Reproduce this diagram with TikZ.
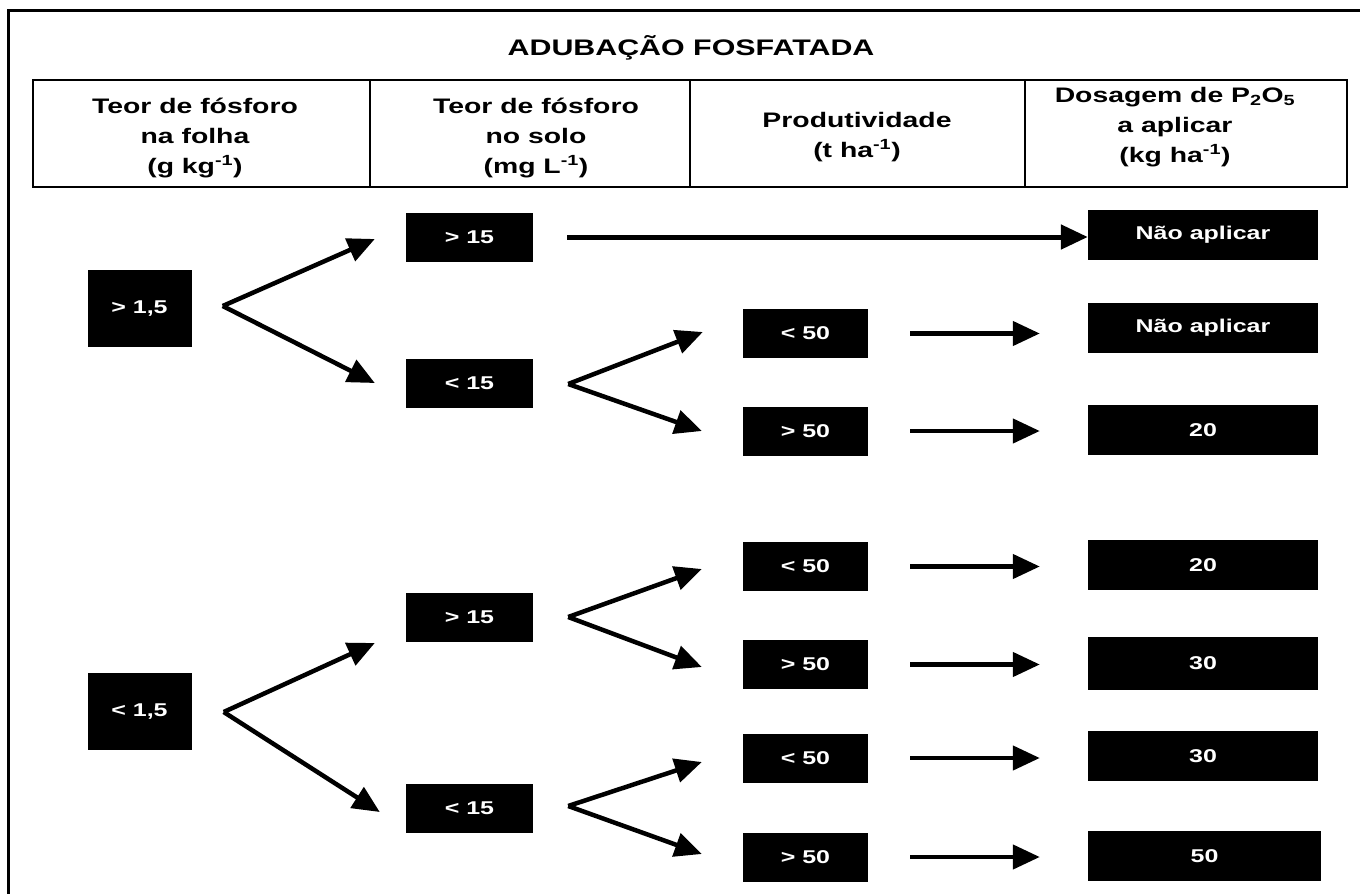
\documentclass[tikz,border=0pt]{standalone}
\usepackage{fontspec}
\setmainfont{Liberation Sans}[FakeStretch=1.35]
\usetikzlibrary{arrows.meta,calc}
\begin{document}
\begin{tikzpicture}[x=1pt,y=-1pt,
  box/.style={fill=black,text=white,font=\fontsize{18.5}{20}\selectfont\bfseries,inner sep=0pt,anchor=center},
  lbox/.style={box,minimum width=104pt,minimum height=77pt},
  sbox/.style={box,minimum width=127pt,minimum height=49pt},
  pbox/.style={box,minimum width=125pt,minimum height=49pt},
  dbox/.style={box,minimum width=230pt,minimum height=50pt},
  hdr/.style={font=\fontsize{21}{30}\selectfont\bfseries,align=center,inner sep=0pt},
  ttl/.style={font=\fontsize{22.5}{26}\selectfont\bfseries,inner sep=0pt},
  arr/.style={line width=4.5pt,-{Triangle[length=27pt,width=24pt]}},
  frame/.style={line width=3pt},
  grid/.style={line width=2pt}
  ]
\useasboundingbox (0,0) rectangle (1360,894);
\fill[white] (0,0) rectangle (1360,894);
% outer frame (right and bottom sides lie outside the picture)
\draw[frame] (8,894) -- (8,10) -- (1360,10);
% title
\node[ttl] (T) at (691,48) {ADUBAÇÃO FOSFATADA};
% header table
\draw[grid] (33,80) rectangle (1347,187);
\draw[grid] (370,80) -- (370,187);
\draw[grid] (690,80) -- (690,187);
\draw[grid] (1025,80) -- (1025,187);
\node[hdr] (H1) at (195,138) {Teor de fósforo\\na folha\\(g kg\textsuperscript{-1})};
\node[hdr] (H2) at (536,138) {Teor de fósforo\\no solo\\(mg L\textsuperscript{-1})};
\node[hdr] (H3) at (857,137) {Produtividade\\(t ha\textsuperscript{-1})};
\node[hdr] (H4) at (1175,127) {Dosagem de P\textsubscript{2}O\textsubscript{5}\\a aplicar\\(kg ha\textsuperscript{-1})};
% leaf content level
\node[lbox] (L1) at (139.5,308.5) {> 1,5};
\node[lbox] (L2) at (139.5,711.5) {< 1,5};
% soil level
\node[sbox] (S1) at (469.5,237) {> 15};
\node[sbox] (S2) at (469.5,383) {< 15};
\node[sbox] (S3) at (469.5,617) {> 15};
\node[sbox] (S4) at (469.5,808) {< 15};
% productivity level
\node[pbox] (P1) at (805.5,333.5) {< 50};
\node[pbox] (P2) at (805.5,431) {> 50};
\node[pbox] (P3) at (805.5,566.5) {< 50};
\node[pbox] (P4) at (805.5,664.5) {> 50};
\node[pbox] (P5) at (805.5,758) {< 50};
\node[pbox] (P6) at (805.5,857) {> 50};
% dosage level
\node[dbox] (D0) at (1203,235) {Não aplicar};
\node[dbox] (D1) at (1203,327.5) {Não aplicar};
\node[dbox] (D2) at (1203,430) {20};
\node[dbox] (D3) at (1203,565) {20};
\node[dbox,minimum height=53pt] (D4) at (1203,663.5) {30};
\node[dbox] (D5) at (1203,756) {30};
\node[dbox,minimum width=233pt] (D6) at (1204.5,856) {50};
% forks
\coordinate (v1) at ($(L1.east)+(31,-2.5)$);
\draw[arr] (v1) -- ($(S1.west)+(-31,2)$);
\draw[arr] (v1) -- ($(S2.west)+(-31,0)$);
\coordinate (v2) at ($(S2.east)+(35,1)$);
\draw[arr] (v2) -- ($(P1.west)+(-40,-1.5)$);
\draw[arr] (v2) -- ($(P2.west)+(-41,0)$);
\coordinate (v3) at ($(S3.east)+(35,0)$);
\draw[arr] (v3) -- ($(P3.west)+(-41,2.5)$);
\draw[arr] (v3) -- ($(P4.west)+(-41,2.5)$);
\coordinate (v4) at ($(L2.east)+(32,0.5)$);
\draw[arr] (v4) -- ($(S3.west)+(-31,26)$);
\draw[arr] (v4) -- ($(S4.west)+(-26,4)$);
\coordinate (v5) at ($(S4.east)+(35,-2)$);
\draw[arr] (v5) -- ($(P5.west)+(-41,4)$);
\draw[arr] (v5) -- ($(P6.west)+(-41,-3)$);
% horizontal arrows
\draw[arr,line width=5pt,shorten <=34pt] (S1.east) -- (S1.east -| D0.west);
\draw[arr,shorten <=42pt,shorten >=48pt] (P1.east) -- (P1.east -| D1.west);
\draw[arr,shorten <=42pt,shorten >=48pt] (P2.east) -- (P2.east -| D2.west);
\draw[arr,shorten <=42pt,shorten >=48pt] (P3.east) -- (P3.east -| D3.west);
\draw[arr,shorten <=42pt,shorten >=48pt] (P4.east) -- (P4.east -| D4.west);
\draw[arr,shorten <=42pt,shorten >=48pt] (P5.east) -- (P5.east -| D5.west);
\draw[arr,shorten <=42pt,shorten >=48pt] (P6.east) -- (P6.east -| D6.west);
\end{tikzpicture}
\end{document}
